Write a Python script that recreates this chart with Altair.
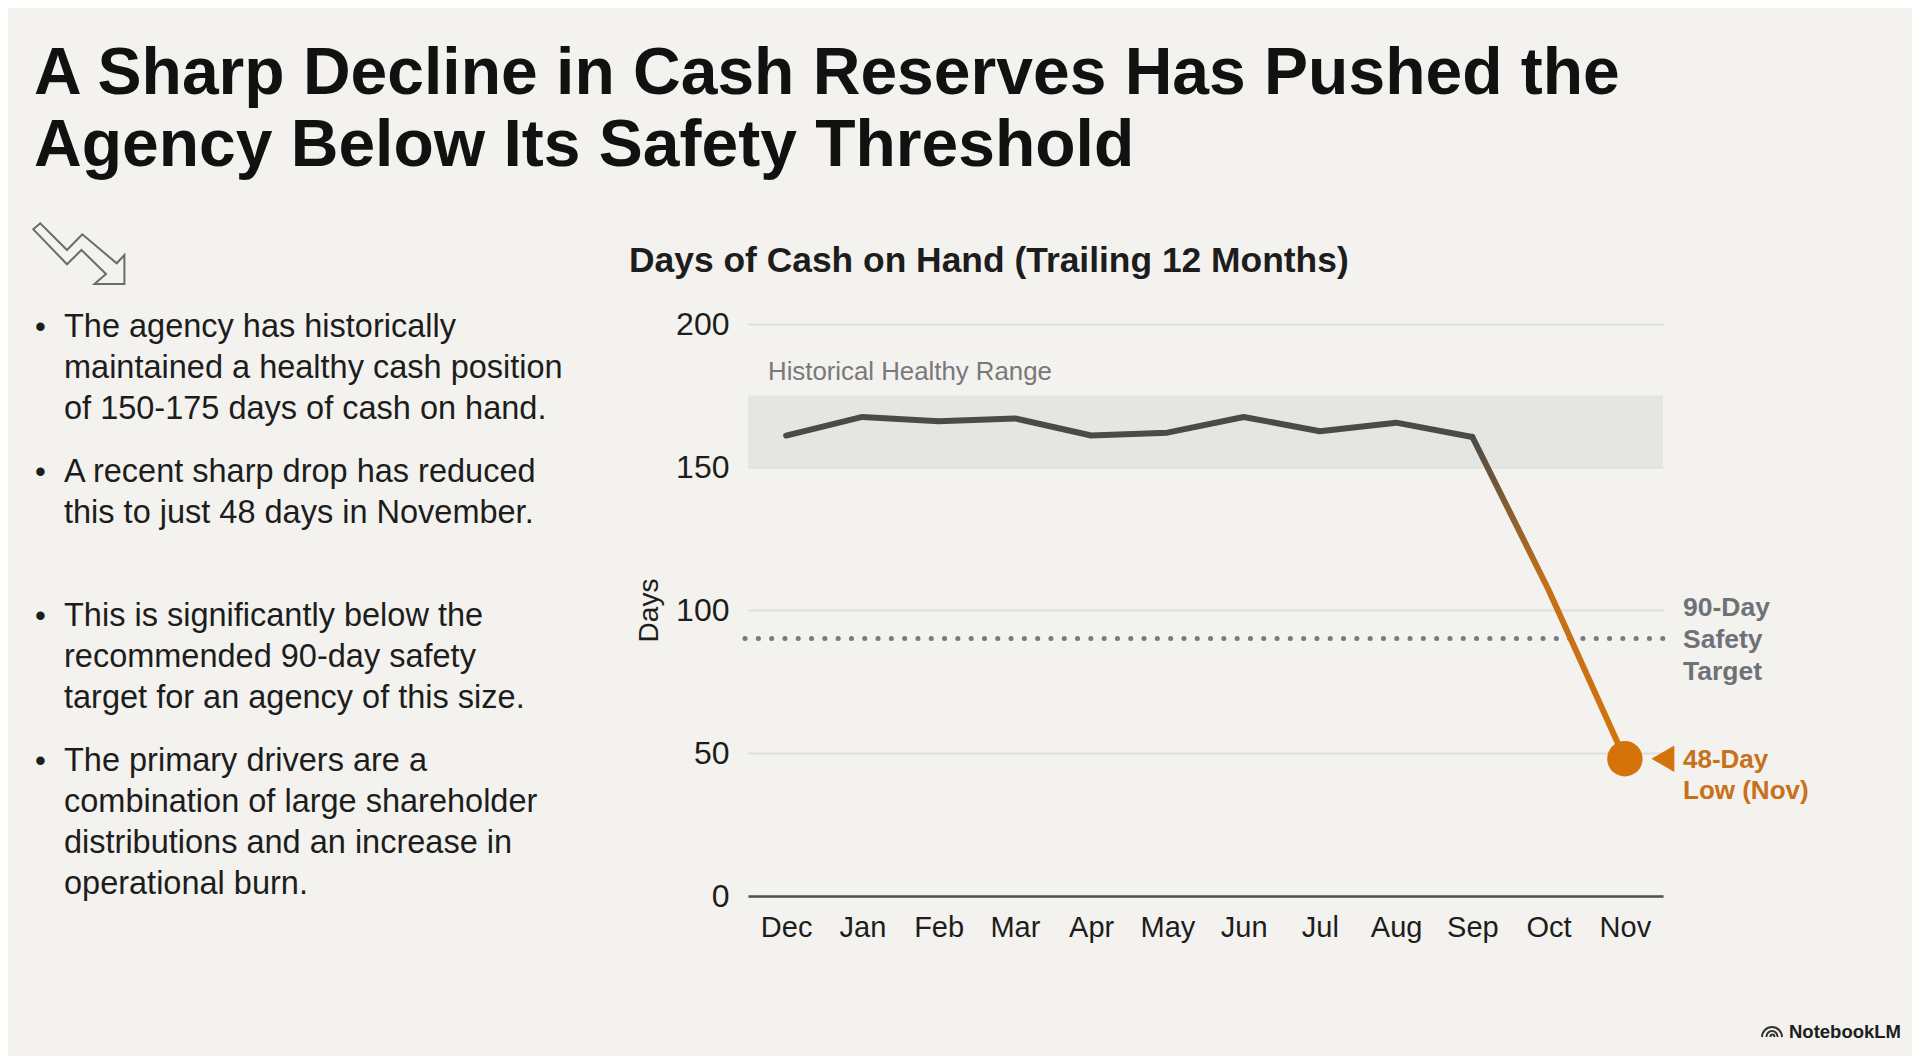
import altair as alt
import pandas as pd

MONTHS = ["Dec", "Jan", "Feb", "Mar", "Apr", "May", "Jun", "Jul", "Aug", "Sep", "Oct", "Nov"]
DAYS = [161, 167.5, 166, 167, 161, 162, 167.5, 162.5, 165.5, 160.5, 107, 48]
RANGE_LOW = 150
RANGE_HIGH = 175
TARGET = 90
TICKS = [0, 50, 100, 150, 200]
HEADLINE = ["A Sharp Decline in Cash Reserves Has Pushed the", "Agency Below Its Safety Threshold"]
CHART_TITLE = "Days of Cash on Hand (Trailing 12 Months)"
BULLETS = [
    ["The agency has historically", "maintained a healthy cash position", "of 150-175 days of cash on hand."],
    ["A recent sharp drop has reduced", "this to just 48 days in November."],
    ["This is significantly below the", "recommended 90-day safety", "target for an agency of this size."],
    ["The primary drivers are a", "combination of large shareholder", "distributions and an increase in", "operational burn."],
]

FONT = "Liberation Sans"
BG = "#f3f2ee"
INK = "#1d1d1d"
DARK = "#4a4a4a"
ORANGE = "#d4730a"
GREY = "#6e7276"

# page pixel -> plot coordinates
OX, OY = 748, 324
PW, PH = 915, 572

df = pd.DataFrame({"month": MONTHS, "days": DAYS})
band = pd.DataFrame({"low": [RANGE_LOW], "high": [RANGE_HIGH]})
target = pd.DataFrame({"target": [TARGET]})

xscale = alt.Scale(type="point", domain=MONTHS, padding=0.5)
yscale = alt.Scale(domain=[0, 200], nice=False)
xaxis = alt.Axis(title=None, grid=False, ticks=False, labelFont=FONT, labelFontSize=29, labelColor=INK,
                 labelPadding=17, domainColor="#4f4f4f", domainWidth=2.5, labelAngle=0)
yaxis = alt.Axis(title="Days", values=TICKS, grid=True, gridColor="#dfdfda", gridWidth=2, ticks=False, domain=False,
                 labelFont=FONT, labelFontSize=32, labelColor=INK, labelPadding=19,
                 titleFont=FONT, titleFontSize=28, titleFontWeight="normal", titleColor=INK, titlePadding=12)
X = alt.X("month:N", scale=xscale, axis=xaxis)


def Y(field):
    return alt.Y(field, type="quantitative", scale=yscale, axis=yaxis)


def text(lines, px, py, size, color=INK, bold=False, line_height=None):
    kw = {"lineHeight": line_height} if line_height else {}
    return alt.Chart(alt.Data(values=[{}])).mark_text(
        text=lines, font=FONT, fontSize=size, fontWeight="bold" if bold else "normal", color=color,
        align="left", baseline="alphabetic", **kw
    ).encode(x=alt.value(px - OX), y=alt.value(py - OY))


def symbol(path, px, py, size, stroke_width=2, stroke="#6a6a6a"):
    return alt.Chart(alt.Data(values=[{}])).mark_point(
        shape=path, size=size, filled=False, stroke=stroke, strokeWidth=stroke_width, opacity=1
    ).encode(x=alt.value(px - OX), y=alt.value(py - OY))


base_grid = alt.Chart(df).mark_line(opacity=0).encode(x=X, y=Y("days"))
band_layer = alt.Chart(band).mark_rect(color="#e5e5e1").encode(y=Y("low"), y2="high:Q")
target_layer = alt.Chart(target).mark_rule(
    color="#777b7f", strokeWidth=5, strokeCap="round", strokeDash=[0.1, 13.2]
).encode(y=Y("target"), x=alt.value(-3), x2=alt.value(PW))
line_dark = alt.Chart(df.iloc[:10]).mark_line(color=DARK, strokeWidth=6, strokeCap="round", strokeJoin="round").encode(x=X, y=Y("days"))
line_drop = alt.Chart(df.iloc[9:]).mark_line(
    strokeWidth=6, strokeCap="round", strokeJoin="round",
    color=alt.Gradient(gradient="linear", x1=0, y1=0, x2=0, y2=1, stops=[
        alt.GradientStop(offset=0, color=DARK),
        alt.GradientStop(offset=0.45, color="#c2701a"),
        alt.GradientStop(offset=1, color=ORANGE),
    ])
).encode(x=X, y=Y("days"))
low_pt = alt.Chart(df.iloc[[-1]]).mark_circle(size=1256, color=ORANGE, opacity=1).encode(x=X, y=Y("days"))
low_arrow = alt.Chart(df.iloc[[-1]]).mark_point(
    shape="triangle-left", size=700, filled=True, color=ORANGE, opacity=1, xOffset=38
).encode(x=X, y=Y("days"))

ICON = ("M-.502,-.271 L-.426,-.337 L-.132,-.044 L.036,-.216 L.414,.102 L.499,.011 L.499,.33 "
        "L.17,.33 L.297,.22 L.027,-.044 L-.132,.113 Z")
LOGO = ("M-.5,.4 A.5,.5 0 0 1 .5,.4 M-.28,.4 A.28,.3 0 0 1 .28,.4 "
        "M-.08,.4 A.1,.12 0 0 1 .12,.4")

slides = [text(BULLETS[0], 64, 337, 32.5, line_height=41),
          text(BULLETS[1], 64, 482, 32.5, line_height=40.5),
          text(BULLETS[2], 64, 626, 32.5, line_height=41),
          text(BULLETS[3], 64, 771, 32.5, line_height=41)]
dots = [text("•", 35, y, 31) for y in (337, 482, 626, 771)]

chart = alt.layer(
    base_grid, band_layer, target_layer, line_dark, line_drop, low_pt, low_arrow,
    text(CHART_TITLE, 629, 272, 35.4, bold=True),
    text("Historical Healthy Range", 768, 380, 25.8, color="#77797a"),
    text(["90-Day", "Safety", "Target"], 1683, 616, 26.5, color=GREY, bold=True, line_height=32),
    text(["48-Day", "Low (Nov)"], 1683, 768, 26, color="#c8701a", bold=True, line_height=31),
    text("NotebookLM", 1789, 1038, 18.5, bold=True),
    symbol(ICON, 79, 254, 182 ** 2),
    symbol(LOGO, 1772, 1029, 40 ** 2, 2, "#333333"),
    *slides, *dots,
).properties(
    width=PW, height=PH, background=BG,
    title=alt.TitleParams(text=HEADLINE, font=FONT, fontSize=66, fontWeight="bold", color="#111111",
                          anchor="start", frame="group", dx=-714, offset=39, lineHeight=72),
    padding={"left": OX - 8, "top": OY - 8, "right": 1904 - (OX - 8) - PW, "bottom": 1048 - (OY - 8) - PH},
    autosize=alt.AutoSizeParams(type="none"),
).configure_view(stroke=None)

chart.save("out.html", embed_options={"renderer": "svg", "actions": False})
